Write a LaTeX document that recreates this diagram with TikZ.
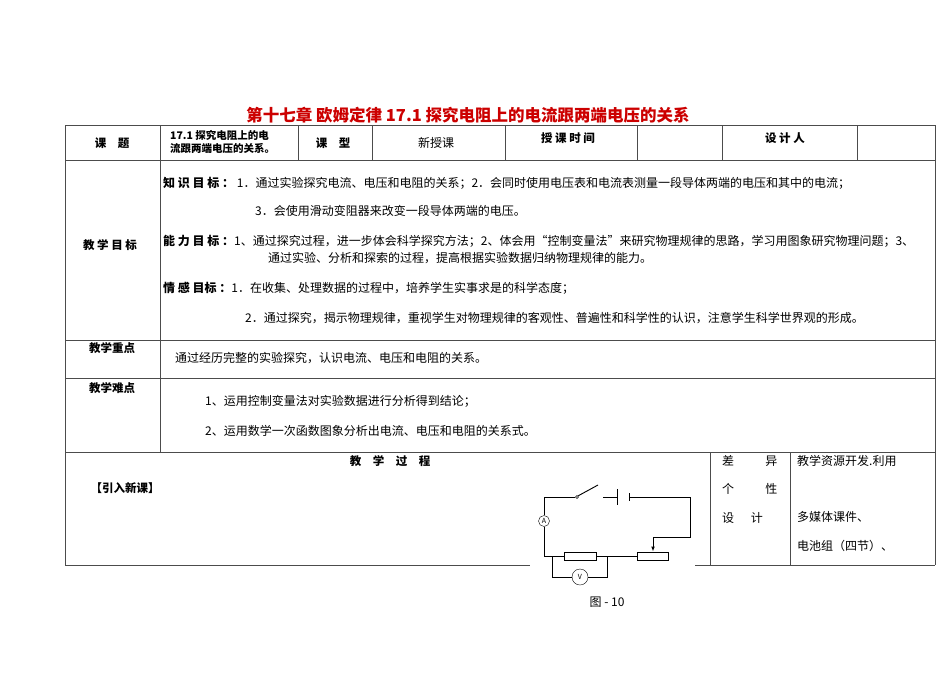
\documentclass[tikz,border=0pt]{standalone}
\usepackage{fontspec}
\setmainfont{Noto Sans CJK SC}
\usetikzlibrary{arrows.meta}
\tikzset{
 grid/.style={line width=0.8pt,draw=black!70},
 txt/.style={anchor=west,inner sep=0pt,font=\fontsize{12}{14}\selectfont},
 lbl/.style={inner sep=0pt,font=\bfseries\fontsize{11.5}{13}\selectfont},
 wire/.style={line width=0.9pt},
}
\begin{document}
\begin{tikzpicture}[x=1pt,y=-1pt]
\useasboundingbox[fill=white] (0,0) rectangle (950,672);
\node[inner sep=0pt,text=red!80!black,font=\bfseries\fontsize{16.5}{18}\selectfont] (title) at (468,115) {第十七章 欧姆定律 17.1 探究电阻上的电流跟两端电压的关系};
% table
\draw[grid] (65,125) -- (935,125);
\draw[grid] (65,160) -- (935,160);
\draw[grid] (65,340) -- (935,340);
\draw[grid] (65,378) -- (935,378);
\draw[grid] (65,452) -- (935,452);
\draw[grid] (65,565) -- (530,565);
\draw[grid] (695,565) -- (935,565);
\draw[grid] (65,125) -- (65,565);
\draw[grid] (935,125) -- (935,565);
\draw[grid] (160,125) -- (160,452);
\foreach \x in {298,372,505,637,722,857} \draw[grid] (\x,125) -- (\x,160);
\draw[grid] (710,452) -- (710,565);
\draw[grid] (790,452) -- (790,565);
% row1
\node[lbl] (a1) at (112,143) {课\quad 题};
\node[inner sep=0pt,align=left,font=\bfseries\fontsize{10.5}{13}\selectfont,anchor=west] (a2) at (170,142) {17.1 探究电阻上的电\\流跟两端电压的关系。};
\node[lbl] (a3) at (333,143) {课\quad 型};
\node[inner sep=0pt,font=\fontsize{12}{14}\selectfont] (a4) at (436,143) {新授课};
\node[lbl] (a5) at (568,138) {授 课 时 间};
\node[lbl] (a6) at (785,138) {设 计 人};
% row2
\node[lbl] (b0) at (110,245) {教 学 目 标};
\node[txt] (b1) at (163,183) {\textbf{知 识 目 标 ：} 1．通过实验探究电流、电压和电阻的关系；2．会同时使用电压表和电流表测量一段导体两端的电压和其中的电流；};
\node[txt] (b2) at (255,211) {3．会使用滑动变阻器来改变一段导体两端的电压。};
\node[txt] (b3) at (163,241) {\textbf{能 力 目 标 ：}1、通过探究过程，进一步体会科学探究方法；2、体会用“控制变量法”来研究物理规律的思路，学习用图象研究物理问题；3、};
\node[txt] (b4) at (268,258) {通过实验、分析和探索的过程，提高根据实验数据归纳物理规律的能力。};
\node[txt] (b5) at (163,288) {\textbf{情 感 目标 ：}1．在收集、处理数据的过程中，培养学生实事求是的科学态度；};
\node[txt] (b6) at (245,318) {2．通过探究，揭示物理规律，重视学生对物理规律的客观性、普遍性和科学性的认识，注意学生科学世界观的形成。};
% row3
\node[lbl] (c0) at (112,348) {教学重点};
\node[txt] (c1) at (175,358) {通过经历完整的实验探究，认识电流、电压和电阻的关系。};
% row4
\node[lbl] (d0) at (112,388) {教学难点};
\node[txt] (d1) at (205,401) {1、运用控制变量法对实验数据进行分析得到结论；};
\node[txt] (d2) at (205,431) {2、运用数学一次函数图象分析出电流、电压和电阻的关系式。};
% row5
\node[lbl] (e0) at (390,461) {教\quad 学\quad 过\quad 程};
\node[lbl] (e1) at (125,488) {【引入新课】};
\node[txt] (e2) at (722,461) {差\hspace{2.6em}异};
\node[txt] (e3) at (722,489) {个\hspace{2.6em}性};
\node[txt] (e4) at (722,518) {设\hspace{1.4em}计};
\node[txt] (e5) at (797,461) {教学资源开发.利用};
\node[txt] (e6) at (797,517) {多媒体课件、};
\node[txt] (e7) at (797,546) {电池组（四节）、};
% circuit
\node[draw,circle,inner sep=0pt,minimum size=11pt,font=\fontsize{7}{7}\selectfont] (am) at (544,521) {A};
\node[draw,circle,inner sep=0pt,minimum width=16pt,minimum height=10pt,font=\fontsize{7}{7}\selectfont] (vm) at (580,577) {V};
\node[draw,minimum width=32pt,minimum height=8pt,inner sep=0pt,line width=0.9pt] (res) at (580,556) {};
\node[draw,minimum width=31pt,minimum height=8pt,inner sep=0pt,line width=0.9pt] (rh) at (653,556) {};
\node[draw,circle,inner sep=0pt,minimum size=3pt] (sw) at (577,497) {};
\coordinate (tl) at (544,497);
\coordinate (bl) at (544,556);
\coordinate (tr) at (690,497);
\coordinate (br) at (690,537);
\coordinate (sl) at (653,537);
\draw[wire] (sw) -- (tl) -- (am) -- (bl) -- (res.west);
\draw[wire] (sw.north east) -- (598,485);
\draw[wire] (603,497) -- (617,497) (617,489) -- (617,505) (629,493) -- (629,501) (629,497) -- (tr) -- (br) -- (sl);
\draw[wire,-{Latex[length=5pt]}] (sl) -- (rh.north);
\draw[wire] (res.east) -- (rh.west);
\draw[wire] (552,556) -- (552,577) -- (vm.west) (vm.east) -- (607,577) -- (607,556);
\node[inner sep=0pt,font=\fontsize{12}{14}\selectfont] (cap) at (607,602) {图 - 10};
\end{tikzpicture}
\end{document}
